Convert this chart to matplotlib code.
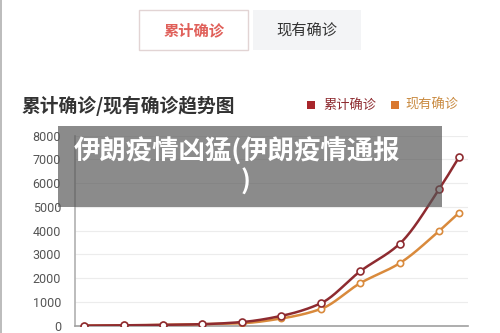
import numpy as np
import matplotlib
matplotlib.use('Agg')
import matplotlib.pyplot as plt
from matplotlib.patches import Rectangle

plt.rcParams['font.family'] = ['Noto Sans CJK SC', 'DejaVu Sans']

# data (x = day index, last point one day after the previous)
days = [0, 2, 4, 6, 8, 10, 12, 14, 16, 18, 19]
total_cases = [0, 10, 30, 60, 150, 410, 940, 2290, 3450, 5750, 7090]
active_cases = [0, 10, 30, 60, 100, 300, 700, 1790, 2630, 3990, 4750]
yticks = [0, 1000, 2000, 3000, 4000, 5000, 6000, 7000, 8000]

tab_labels = ['累计确诊', '现有确诊']
title = '累计确诊/现有确诊趋势图'
overlay_lines = ['伊朗疫情凶猛(伊朗疫情通报', ')']

red = '#8e2b30'
orange = '#d98a3c'


def smooth(x, y, n=30):
    # monotone cubic (pchip-like) curve through the points, only for drawing
    x = np.asarray(x, float)
    y = np.asarray(y, float)
    h = np.diff(x)
    d = np.diff(y) / h
    m = np.zeros_like(y)
    for i in range(1, len(y) - 1):
        if d[i - 1] * d[i] > 0:
            w1 = 2 * h[i] + h[i - 1]
            w2 = h[i] + 2 * h[i - 1]
            m[i] = (w1 + w2) / (w1 / d[i - 1] + w2 / d[i])
    m[0] = d[0]
    m[-1] = d[-1]
    xs, ys = [], []
    for i in range(len(h)):
        t = np.linspace(0, 1, n, endpoint=(i == len(h) - 1))
        h00 = 2 * t**3 - 3 * t**2 + 1
        h10 = t**3 - 2 * t**2 + t
        h01 = -2 * t**3 + 3 * t**2
        h11 = t**3 - t**2
        xs.append(x[i] + t * h[i])
        ys.append(h00 * y[i] + h10 * h[i] * m[i] + h01 * y[i + 1] + h11 * h[i] * m[i + 1])
    return np.concatenate(xs), np.concatenate(ys)


fig = plt.figure(figsize=(5, 3.33), dpi=100)

# tabs on top
fig.patches.append(Rectangle((139 / 500, 1 - 50 / 333), 109 / 500, 40 / 333,
                             transform=fig.transFigure, facecolor='white',
                             edgecolor='#e2d4d4', lw=1))
fig.patches.append(Rectangle((253 / 500, 1 - 50 / 333), 108 / 500, 40 / 333,
                             transform=fig.transFigure, facecolor='#f3f4f6',
                             edgecolor='none'))
fig.text(194 / 500, 1 - 30 / 333, tab_labels[0], color='#e0605a', fontsize=11,
         fontweight='bold', ha='center', va='center')
fig.text(307 / 500, 1 - 30 / 333, tab_labels[1], color='#333333', fontsize=11,
         ha='center', va='center')

# left border
fig.patches.append(Rectangle((0, 0), 2 / 500, 1, transform=fig.transFigure,
                             facecolor='#bdbdbd', edgecolor='none'))

# title + legend
fig.text(22 / 500, 1 - 106 / 333, title, fontsize=13.5, fontweight='bold',
         color='#333333', ha='left', va='center')
fig.patches.append(Rectangle((307 / 500, 1 - 109 / 333), 8 / 500, 8 / 333,
                             transform=fig.transFigure, facecolor='#a8262b',
                             edgecolor='none'))
fig.text(323 / 500, 1 - 105 / 333, tab_labels[0], fontsize=9.5, color='#8e2b30',
         ha='left', va='center')
fig.patches.append(Rectangle((391 / 500, 1 - 109 / 333), 8 / 500, 8 / 333,
                             transform=fig.transFigure, facecolor='#d9772e',
                             edgecolor='none'))
fig.text(405 / 500, 1 - 105 / 333, tab_labels[1], fontsize=9.5, color='#c98a40',
         ha='left', va='center')

ax = fig.add_axes([75 / 500, 1 - 325.6 / 333, 393 / 500, 189.9 / 333])
ax.set_ylim(0, 8000)
ax.set_xlim(-0.46, 19.46)
ax.set_yticks(yticks)
ax.set_xticks([])
ax.tick_params(axis='y', length=0, pad=10, labelsize=9, labelcolor='#555555')
for lab in ax.get_yticklabels():
    lab.set_family(['Roboto', 'DejaVu Sans'])
ax.grid(axis='y', color='#ececec', lw=0.8)
ax.set_axisbelow(True)
for s in ['top', 'right']:
    ax.spines[s].set_visible(False)
ax.spines['left'].set_color('#b0b0b0')
ax.spines['bottom'].set_color('#a0a0a0')
ax.spines['left'].set_linewidth(1.2)
ax.spines['bottom'].set_linewidth(1.2)

sx, sy = smooth(days, active_cases)
ax.plot(sx, sy, color=orange, lw=1.8, zorder=3)
ax.plot(days, active_cases, 'o', ms=4.5, mfc='white', mec=orange, mew=1.2, zorder=4)
sx, sy = smooth(days, total_cases)
ax.plot(sx, sy, color=red, lw=1.8, zorder=5)
ax.plot(days, total_cases, 'o', ms=5, mfc='white', mec=red, mew=1.2, zorder=6)

# grey caption overlay
fig.patches.append(Rectangle((58 / 500, 1 - 207 / 333), 384 / 500, 81 / 333,
                             transform=fig.transFigure, facecolor='#555555',
                             alpha=0.68, edgecolor='none', zorder=10))
fig.text(237 / 500, 1 - 152 / 333, overlay_lines[0], fontsize=19, fontweight='bold',
         color='white', ha='center', va='center', zorder=11)
fig.text(246 / 500, 1 - 182 / 333, overlay_lines[1], fontsize=19, fontweight='bold',
         color='white', ha='center', va='center', zorder=11)

fig.savefig('out.png', dpi=100)
